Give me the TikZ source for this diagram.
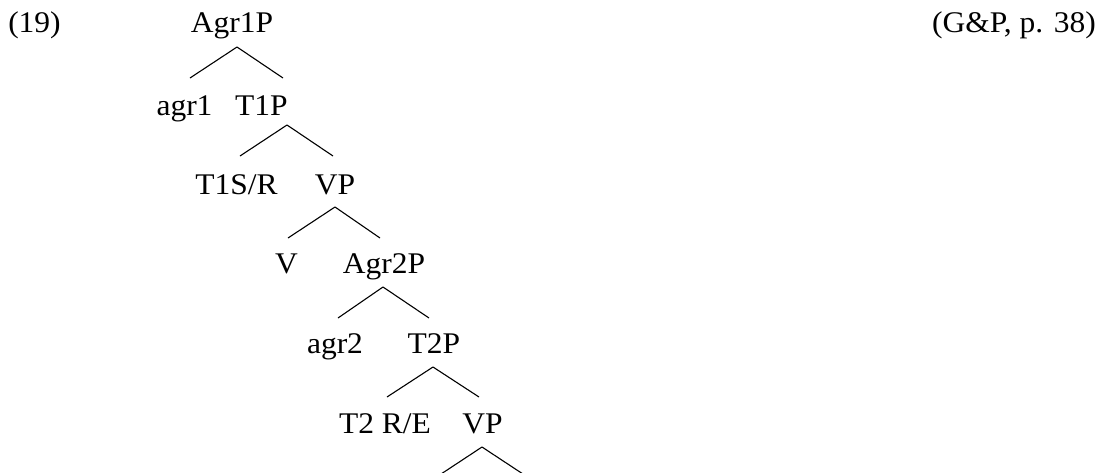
\documentclass[tikz,border=0pt]{standalone}
\usepackage{fontspec}
\setmainfont[FakeStretch=1.05]{Liberation Serif}
\begin{document}
\begin{tikzpicture}[x=1pt,y=-1pt,
  lbl/.style={anchor=base,inner sep=0pt,font=\fontsize{30}{36}\selectfont},
  branch/.style={line width=1.1pt,black}]
\useasboundingbox (0,0) rectangle (1101,472);
\clip (0,0) rectangle (1101,472);
% example number and source
\node[lbl] (num) at (34.5,32) {(19)};
\node[lbl,anchor=base east] (src) at (1096,32) {(G\&P, p. 38)};
% tree labels
\node[lbl] (Agr1P) at (232,32) {Agr1P};
\node[lbl] (agr1) at (184.5,115) {agr1};
\node[lbl] (T1P) at (261.5,115) {T1P};
\node[lbl] (T1SR) at (236.5,194) {T1S/R};
\node[lbl] (VPa) at (335,194) {VP};
\node[lbl] (V) at (286.5,273) {V};
\node[lbl] (Agr2P) at (384,273) {Agr2P};
\node[lbl] (agr2) at (335,353) {agr2};
\node[lbl] (T2P) at (434,353) {T2P};
\node[lbl] (T2RE) at (385,433) {T2 R/E};
\node[lbl] (VPb) at (482.5,433) {VP};
% branches: each fork hangs below its mother label
\draw[branch] ([shift={(5,15)}]Agr1P.base) coordinate (f1) -- +(-47,31) (f1) -- +(46,31);
\draw[branch] ([shift={(25.5,10)}]T1P.base) coordinate (f2) -- +(-47,31) (f2) -- +(46,31);
\draw[branch] ([shift={(0,13)}]VPa.base) coordinate (f3) -- +(-47,31) (f3) -- +(45,31);
\draw[branch] ([shift={(-1,14)}]Agr2P.base) coordinate (f4) -- +(-45,31) (f4) -- +(46,31);
\draw[branch] ([shift={(-1,14)}]T2P.base) coordinate (f5) -- +(-46,30) (f5) -- +(46,30);
\draw[branch] ([shift={(-0.5,14)}]VPb.base) coordinate (f6) -- +(-47,31) (f6) -- +(47,31);
\end{tikzpicture}
\end{document}
